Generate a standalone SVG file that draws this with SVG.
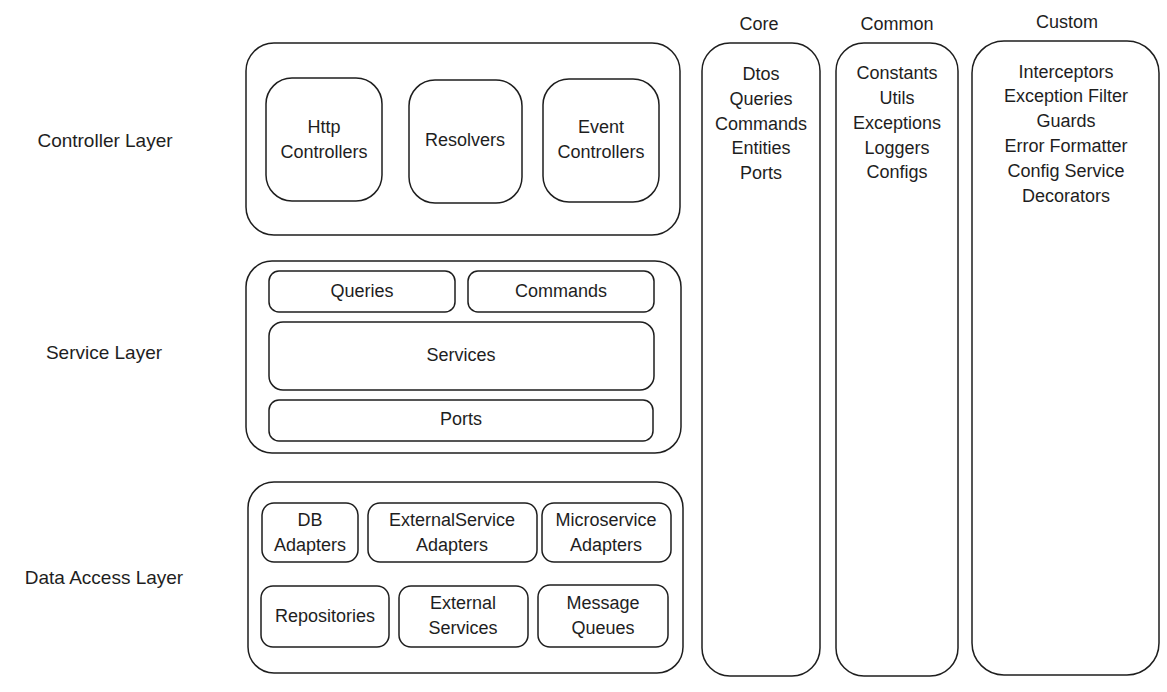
<svg xmlns="http://www.w3.org/2000/svg" width="1167" height="692" viewBox="0 0 1167 692">
<style>
.b{fill:#ffffff;stroke:#1e1e1e;stroke-width:1.5}
.t{font-family:"Liberation Sans",Arial,sans-serif;font-size:18px;fill:#1e1e1e;text-anchor:middle;dominant-baseline:middle}
.l{font-family:"Liberation Sans",Arial,sans-serif;font-size:19px;fill:#1e1e1e;text-anchor:middle;dominant-baseline:middle}
</style>
<rect width="1167" height="692" fill="#ffffff"/>
<g id="labels">
<text class="l" x="105" y="142">Controller Layer</text>
<text class="l" x="104" y="354">Service Layer</text>
<text class="l" x="104" y="579">Data Access Layer</text>
</g>
<g id="controller-layer">
<rect class="b" x="246" y="43" width="434" height="192" rx="28"/>
<g id="http-controllers"><rect class="b" x="266" y="78" width="116" height="123" rx="26"/>
<text class="t" x="324" y="128">Http</text><text class="t" x="324" y="153">Controllers</text></g>
<g id="resolvers"><rect class="b" x="409" y="80" width="113" height="123" rx="26"/>
<text class="t" x="465" y="141">Resolvers</text></g>
<g id="event-controllers"><rect class="b" x="543" y="79" width="116" height="123" rx="26"/>
<text class="t" x="601" y="128">Event</text><text class="t" x="601" y="153">Controllers</text></g>
</g>
<g id="service-layer">
<rect class="b" x="246" y="261" width="435" height="192" rx="26"/>
<g id="queries"><rect class="b" x="269" y="271" width="186" height="41" rx="10"/>
<text class="t" x="362" y="292">Queries</text></g>
<g id="commands"><rect class="b" x="468" y="271" width="186" height="41" rx="10"/>
<text class="t" x="561" y="292">Commands</text></g>
<g id="services"><rect class="b" x="269" y="322" width="385" height="68" rx="14"/>
<text class="t" x="461" y="356">Services</text></g>
<g id="ports"><rect class="b" x="269" y="400" width="384" height="41" rx="10"/>
<text class="t" x="461" y="420">Ports</text></g>
</g>
<g id="data-access-layer">
<rect class="b" x="248" y="482" width="435" height="191" rx="26"/>
<g id="db-adapters"><rect class="b" x="262" y="503" width="96" height="59" rx="12"/>
<text class="t" x="310" y="521">DB</text><text class="t" x="310" y="546">Adapters</text></g>
<g id="externalservice-adapters"><rect class="b" x="368" y="503" width="169" height="59" rx="12"/>
<text class="t" x="452" y="521">ExternalService</text><text class="t" x="452" y="546">Adapters</text></g>
<g id="microservice-adapters"><rect class="b" x="542" y="503" width="129" height="59" rx="12"/>
<text class="t" x="606" y="521">Microservice</text><text class="t" x="606" y="546">Adapters</text></g>
<g id="repositories"><rect class="b" x="261" y="586" width="128" height="61" rx="12"/>
<text class="t" x="325" y="617">Repositories</text></g>
<g id="external-services"><rect class="b" x="399" y="586" width="129" height="61" rx="12"/>
<text class="t" x="463" y="604">External</text><text class="t" x="463" y="629">Services</text></g>
<g id="message-queues"><rect class="b" x="538" y="585" width="130" height="62" rx="12"/>
<text class="t" x="603" y="604">Message</text><text class="t" x="603" y="629">Queues</text></g>
</g>
<g id="core">
<text class="t" x="759" y="25">Core</text>
<rect class="b" x="702" y="43" width="118" height="633" rx="28"/>
<text class="t" x="761" y="75">Dtos</text>
<text class="t" x="761" y="100">Queries</text>
<text class="t" x="761" y="125">Commands</text>
<text class="t" x="761" y="149">Entities</text>
<text class="t" x="761" y="174">Ports</text>
</g>
<g id="common">
<text class="t" x="897" y="25">Common</text>
<rect class="b" x="836" y="43" width="122" height="633" rx="28"/>
<text class="t" x="897" y="74">Constants</text>
<text class="t" x="897" y="99">Utils</text>
<text class="t" x="897" y="124">Exceptions</text>
<text class="t" x="897" y="149">Loggers</text>
<text class="t" x="897" y="173">Configs</text>
</g>
<g id="custom">
<text class="t" x="1067" y="23">Custom</text>
<rect class="b" x="972" y="41" width="187" height="634" rx="32"/>
<text class="t" x="1066" y="73">Interceptors</text>
<text class="t" x="1066" y="97">Exception Filter</text>
<text class="t" x="1066" y="122">Guards</text>
<text class="t" x="1066" y="147">Error Formatter</text>
<text class="t" x="1066" y="172">Config Service</text>
<text class="t" x="1066" y="197">Decorators</text>
</g>
<g id="connectors"></g>
</svg>
